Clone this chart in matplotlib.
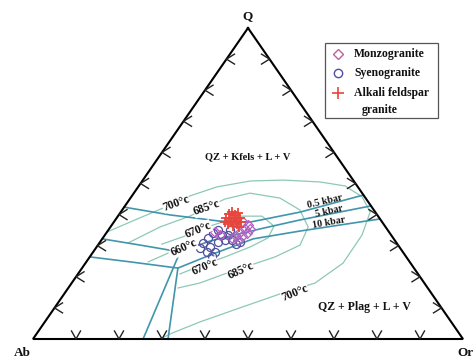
import numpy as np
import matplotlib
matplotlib.use("Agg")
import matplotlib.pyplot as plt
from matplotlib.patches import Rectangle

# ---------------- compositions (wt%): Q and Or, Ab = 100 - Q - Or ----------------
alkali_q = [38.9, 40.2, 40.8, 39.9, 40.5, 38.9, 38.3, 37.6, 37.0, 36.3, 37.0, 37.6, 37.6, 38.9, 38.9, 36.0]
alkali_or = [25.4, 25.5, 25.9, 27.0, 27.4, 28.7, 28.1, 27.2, 26.9, 28.3, 29.0, 29.6, 25.8, 26.3, 27.3, 29.9]

monzo_q = [37.6, 36.7, 35.4, 34.4, 33.1, 33.1, 34.1, 35.4, 32.5, 31.8, 34.4, 33.4]
monzo_or = [30.0, 31.7, 31.6, 30.9, 30.7, 32.0, 32.7, 32.8, 30.0, 31.8, 25.1, 26.8]

syeno_q = [30.9, 32.5, 34.1, 35.0, 33.4, 31.8, 29.6, 28.0, 28.0, 33.4, 35.0, 31.2, 31.8, 30.5, 31.2, 29.3, 26.7]
syeno_or = [24.1, 24.5, 24.8, 25.5, 27.2, 28.7, 26.4, 28.3, 26.5, 28.6, 28.3, 27.4, 30.4, 31.9, 32.5, 24.2, 28.3]

# cotectic lines for three water pressures
p05_q = [42.4, 39.9, 37.9, 37.6, 40.8, 46.3]
p05_or = [0.0, 11.9, 24.5, 31.7, 41.7, 53.7]
p5_q = [32.2, 30.2, 28.0, 31.5, 35.4, 38.3, 42.8]
p5_or = [0.0, 9.8, 20.2, 25.4, 35.1, 43.0, 57.2]
p10_q = [26.4, 24.8, 22.8, 27.0, 32.2, 34.7, 38.6]
p10_or = [0.0, 10.2, 22.3, 27.7, 35.1, 44.7, 61.4]
# feldspar field boundaries down to the Ab-Or join
f5_q = [28.0, 0.0]
f5_or = [20.2, 25.6]
f10_q = [22.8, 0.0]
f10_or = [22.3, 31.4]

# liquidus isotherms
t700_q = [34.4, 38.3, 42.1, 46.0, 48.9, 50.8, 51.1, 50.5, 49.2, 45.7, 40.8, 33.4, 24.4, 18.0, 14.5, 10.0, 5.5, 1.9, 0.0]
t700_or = [0.0, 4.6, 9.2, 13.5, 18.3, 25.1, 32.6, 41.5, 48.0, 53.7, 58.0, 59.8, 59.9, 56.6, 50.2, 43.1, 36.1, 31.4, 29.5]
t685_q = [30.9, 36.0, 39.5, 45.0, 46.9, 45.3, 41.5, 36.0, 30.2, 26.4, 21.2, 18.0, 16.4]
t685_or = [6.7, 11.5, 16.7, 22.1, 27.0, 34.8, 41.3, 46.0, 47.0, 43.1, 34.5, 29.8, 25.5]
t670_q = [30.5, 33.1, 36.3, 39.5, 39.5, 36.3, 32.5, 29.6, 26.4, 23.5, 20.9]
t670_or = [14.7, 18.8, 23.0, 28.4, 33.5, 37.9, 38.4, 35.7, 31.5, 27.1, 23.7]
t660_q = [24.8, 27.6]
t660_or = [14.4, 17.6]

tick_levels = [10, 20, 30, 40, 50, 60, 70, 80, 90]

# ---------------- figure ----------------
W, H = 474, 358
fig = plt.figure(figsize=(W / 100, H / 100), dpi=100)
fig.patch.set_facecolor("white")
# ternary frame: Ab at (0,0), Or at (1,0), Q at (0.5,1)
ax = fig.add_axes([33 / W, (H - 339) / H, 430 / W, 311 / H])
ax.set_xlim(0, 1)
ax.set_ylim(0, 1)
ax.axis("off")
# pixel-space overlay for annotations
ov = fig.add_axes([0, 0, 1, 1], zorder=5)
ov.set_xlim(0, W)
ov.set_ylim(H, 0)
ov.axis("off")
ov.patch.set_alpha(0)

SERIF = ["Liberation Serif", "DejaVu Serif"]


def tern(q, orr):
    q = np.asarray(q, float) / 100.0
    orr = np.asarray(orr, float) / 100.0
    return orr + q / 2.0, q


# frame
fx, fy = tern([100, 0, 0, 100], [0, 0, 100, 0])
ax.plot(fx, fy, color="black", lw=1.5, solid_joinstyle="miter", clip_on=False, zorder=6)

# chevron ticks
sx, sy = 1 / 430, 1 / 311
tk = dict(color="#222222", lw=1.0, clip_on=False, zorder=6)
for v in tick_levels:
    x, y = tern(0, v)
    ax.plot([x - 4.5 * sx, x, x + 4.5 * sx], [y + 8 * sy, y, y + 8 * sy], **tk)
    x, y = tern(v, 0)
    ax.plot([x + 8 * sx, x, x + 8 * sx], [y + 5 * sy, y, y - 5 * sy], **tk)
    x, y = tern(v, 100 - v)
    ax.plot([x - 8 * sx, x, x - 8 * sx], [y + 5 * sy, y, y - 5 * sy], **tk)

# isotherms
iso = dict(color="#8cc9b7", lw=0.9, clip_on=False, zorder=2)
for q, o in [(t700_q, t700_or), (t685_q, t685_or), (t670_q, t670_or), (t660_q, t660_or)]:
    ax.plot(*tern(q, o), **iso)

# cotectics
cot = dict(color="#4196ab", lw=1.2, clip_on=False, zorder=4)
for q, o in [(p05_q, p05_or), (p5_q, p5_or), (p10_q, p10_or), (f5_q, f5_or), (f10_q, f10_or)]:
    ax.plot(*tern(q, o), **cot)

# samples
c_syeno, c_monzo, c_alk = "#4f4f9e", "#b45fc2", "#e8453c"
ax.plot(*tern(syeno_q, syeno_or), ls="none", marker="o", ms=5.8, mfc="none",
        mec=c_syeno, mew=0.9, zorder=7, clip_on=False)
ax.plot(*tern(monzo_q, monzo_or), ls="none", marker="D", ms=4.8, mfc="none",
        mec=c_monzo, mew=0.9, zorder=7, clip_on=False)
ax.plot(*tern(alkali_q, alkali_or), ls="none", marker="+", ms=7.5, mew=1.3,
        color=c_alk, zorder=8, clip_on=False)

# apex labels
bold = dict(family=SERIF, weight="bold", color="#111111")
ov.text(248, 16, "Q", ha="center", va="center", fontsize=9.5, **bold)
ov.text(22, 353, "Ab", ha="center", va="center", fontsize=9.5, **bold)
ov.text(474, 353, "Or", ha="right", va="center", fontsize=9.5, **bold)

# field labels
ov.text(248, 157, "QZ + Kfels + L + V", ha="center", va="center", fontsize=7.5, **bold)
ov.text(364, 307, "QZ + Plag + L + V", ha="center", va="center", fontsize=8.5, **bold)

# isotherm labels
tl = dict(ha="center", va="center", fontsize=8.5, rotation_mode="anchor",
          bbox=dict(fc="white", ec="none", pad=0.2), zorder=3)
for (x, y, s, r) in [(176, 203, "700°c", 20), (207, 208, "685°c", 19),
                     (198, 230, "670°c", 22), (184, 248, "660°c", 24),
                     (205, 267, "670°c", 23), (241, 271, "685°c", 24),
                     (295, 293, "700°c", 22)]:
    ov.text(x, y, s, rotation=r, **tl, **bold)

# pressure labels
for (x, y, s, r) in [(325, 202, "0.5 kbar", 13), (329, 211, "5 kbar", 13),
                     (329, 223, "10 kbar", 10)]:
    ov.text(x, y, s, rotation=r, ha="center", va="center", fontsize=7.2,
            rotation_mode="anchor", **bold)

# legend
ov.add_patch(Rectangle((325, 43), 113, 75, fc="white", ec="#555555", lw=0.9, zorder=6))
ov.plot([338], [54], marker="D", ms=5, mfc="none", mec="#c0609e", mew=1.0, zorder=7)
ov.plot([338], [73], marker="o", ms=6, mfc="none", mec=c_syeno, mew=1.0, zorder=7)
ov.plot([338], [93], marker="+", ms=9, mew=1.2, color=c_alk, zorder=7)
lg = dict(ha="left", va="center", fontsize=8.5, zorder=7)
ov.text(354, 54, "Monzogranite", **lg, **bold)
ov.text(354, 73, "Syenogranite", **lg, **bold)
ov.text(354, 93, "Alkali feldspar", **lg, **bold)
ov.text(380, 110, "granite", ha="center", va="center", fontsize=8.5, zorder=7, **bold)

fig.savefig("out.png", dpi=100, facecolor="white")
